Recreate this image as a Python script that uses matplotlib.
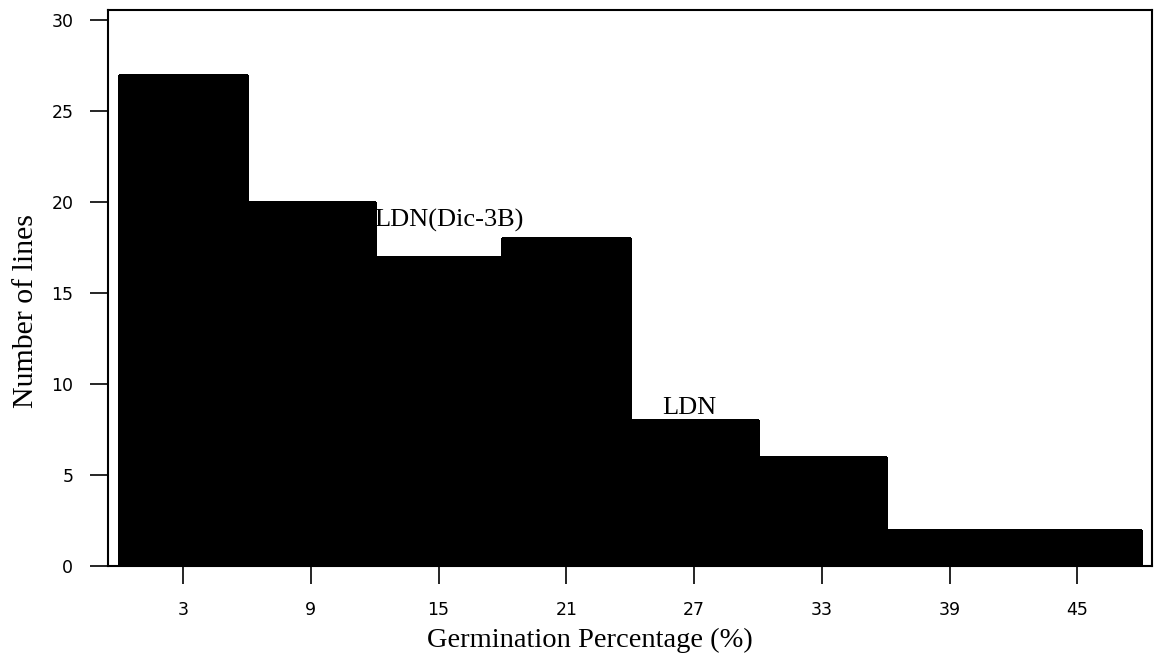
import numpy as np
import matplotlib
matplotlib.use('Agg')
import matplotlib.pyplot as plt

# bin midpoints (germination %) and counts
midpoints = [3, 9, 15, 21, 27, 33, 39, 45]
counts = [27, 20, 17, 18, 8, 6, 2, 2]
bin_width = 6
yticks = [0, 5, 10, 15, 20, 25, 30]
labels = [("LDN(Dic-3B)", 12, 19.0), ("LDN", 25.5, 8.7)]

fig = plt.figure(figsize=(11.55, 6.7), dpi=100)
ax = fig.add_axes([108 / 1155, 1 - 566 / 670, (1152 - 108) / 1155, (566 - 10) / 670])

ax.bar(midpoints, counts, width=bin_width, color='black', edgecolor='black',
	linewidth=1, antialiased=False)

ax.set_xlim(-0.52, 48.5)
ax.set_ylim(0, 30.55)
ax.set_xticks(midpoints)
ax.set_yticks(yticks)
ax.tick_params(direction='out', length=13, width=1.2, labelsize=12.5, pad=12)
for s in ax.spines.values():
	s.set_linewidth(1.5)

for txt, x, y in labels:
	ax.text(x, y, txt, family='Liberation Serif', fontsize=19, va='center', ha='left')

ax.set_xlabel("Germination Percentage (%)", family='Liberation Serif', fontsize=20.5, va='center')
ax.set_ylabel("Number of lines", family='Liberation Serif', fontsize=21.5, va='center')
# labels sit a bit off the axis centre in the original
ax.xaxis.set_label_coords(0.4617, -0.133)
ax.yaxis.set_label_coords(-0.0785, 0.459)

fig.savefig('out.png', dpi=100)
